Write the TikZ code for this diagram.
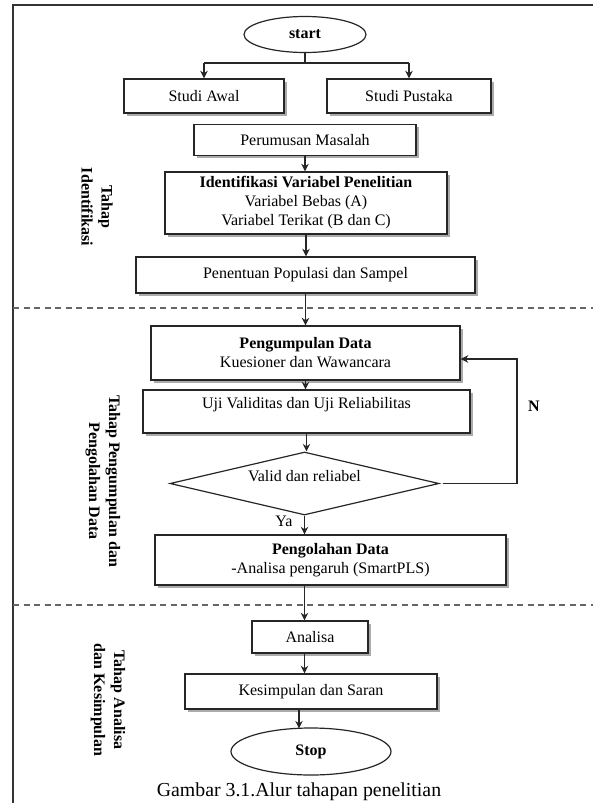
\documentclass[tikz,border=0pt]{standalone}
\usepackage{fontspec}
\setmainfont{Liberation Serif}
\usetikzlibrary{arrows.meta,shapes.geometric,shadows}

\begin{document}
\begin{tikzpicture}[x=1pt,y=-1pt,
  txt/.style={font=\fontsize{16}{19}\selectfont},
  box/.style={draw=black!85, line width=1.4pt, fill=white, inner sep=0pt, align=center, txt,
    drop shadow={shadow xshift=2.5pt, shadow yshift=-2.5pt, fill=black!55, opacity=0.6}},
  oval/.style={ellipse, draw=black!85, line width=1.2pt, fill=white, inner sep=0pt,
    font=\fontsize{16}{19}\selectfont\bfseries},
  decision/.style={diamond, aspect=4.3, draw=black!85, line width=1.2pt, fill=white, inner sep=0pt},
  link/.style={draw=black!85, line width=1.3pt},
  flow/.style={link, -{Stealth[length=7.5pt,width=7.5pt]}},
  phase/.style={rotate=-90, align=center, font=\fontsize{16}{20}\selectfont\bfseries},
  divider/.style={draw=black!60, line width=1.8pt, dash pattern=on 6pt off 4.5pt},
  frameline/.style={draw=black!80, line width=1.5pt},
]
\useasboundingbox (0,0) rectangle (593,803);

% outer frame (top and left edges)
\coordinate (ftl) at (13,5);
\coordinate (ftr) at (593,5);
\coordinate (fbl) at (13,803);
\draw[frameline] (ftr) -- (ftl) -- (fbl);

% phase dividers
\coordinate (d1l) at (13,308);
\coordinate (d1r) at (593,308);
\coordinate (d2l) at (13,605);
\coordinate (d2r) at (593,605);
\draw[divider] (d1l) -- (d1r);
\draw[divider] (d2l) -- (d2r);

% phase titles
\node[phase] (ph1) at (97,207) {Tahap\\Identifikasi};
\node[phase] (ph2) at (103,481) {Tahap Pengumpulan dan\\Pengolahan Data};
\node[phase] (ph3) at (108,700) {Tahap Analisa\\dan Kesimpulan};

% flow nodes
\node[oval, minimum width=122pt, minimum height=36pt] (start) at (305,34.5) {start};
\node[box, minimum width=160pt, minimum height=34pt] (sa) at (204,96) {Studi Awal};
\node[box, minimum width=164pt, minimum height=34pt] (sp) at (409,96) {Studi Pustaka};
\node[box, minimum width=222pt, minimum height=31pt] (pm) at (305,140) {Perumusan Masalah};
\node[box, minimum width=282pt, minimum height=62pt] (iv) at (306,203)
  {\textbf{Identifikasi Variabel Penelitian}\\Variabel Bebas (A)\\Variabel Terikat (B dan C)};
\node[box, minimum width=339pt, minimum height=36pt] (pp) at (305.5,275) {Penentuan Populasi dan Sampel};
\node[box, minimum width=309pt, minimum height=54pt] (pg) at (305.5,353)
  {\textbf{Pengumpulan Data}\\Kuesioner dan Wawancara};
\node[box, minimum width=327pt, minimum height=43pt, text height=12pt, text depth=18pt] (uj) at (306.5,411.5)
  {Uji Validitas dan Uji Reliabilitas};
\node[decision, minimum width=269pt, minimum height=63pt] (dm) at (304.5,483.5) {};
\node[txt] (dmtext) at ([yshift=7pt]dm.center) {Valid dan reliabel};
\node[box, minimum width=351pt, minimum height=50pt] (po) at (330.5,560)
  {\textbf{Pengolahan Data}\\-Analisa pengaruh (SmartPLS)};
\node[box, minimum width=116pt, minimum height=32pt] (an) at (310,637) {Analisa};
\node[box, minimum width=252pt, minimum height=35pt] (ks) at (311,691.5) {Kesimpulan dan Saran};
\node[oval, minimum width=160pt, minimum height=47pt] (stop) at (311,751.5) {Stop};

% branch labels
\node[txt] (ya) at (284,521) {Ya};
\node[txt, font=\fontsize{16}{19}\selectfont\bfseries] (no) at (534,406) {N};

% caption
\node[font=\fontsize{19.8}{23}\selectfont] (cap) at (299,792) {Gambar 3.1.Alur tahapan penelitian};

% connectors
\coordinate (split) at (305,63);
\draw[link] (start.south) -- (split);
\draw[link] (split -| sa.north) -- (split -| sp.north);
\draw[flow] (split -| sa.north) -- (sa.north);
\draw[flow] (split -| sp.north) -- (sp.north);
\draw[flow] (pm.south) -- (pm.south |- iv.north);
\draw[flow] (iv.south) -- (iv.south |- pp.north);
\draw[flow] (pp.south) -- (pp.south |- pg.north);
\draw[flow] (pg.south) -- (pg.south |- uj.north);
\draw[flow] (uj.south) -- (uj.south |- dm.north);
\draw[flow] (dm.south) -- (dm.south |- po.north);
\draw[flow] (po.south -| dm.south) -- (an.north -| dm.south);
\draw[flow] (an.south -| dm.south) -- (ks.north -| dm.south);
\coordinate (lowx) at (299,0);
\draw[flow] (ks.south -| lowx) -- ([yshift=-1pt]stop.north -| lowx);

% rejection loop back to data collection
\coordinate (nloop) at (517,359);
\draw[flow, shorten <=3pt] (dm.east) -- (dm.east -| nloop) -- (nloop) -- (nloop -| pg.east);
\end{tikzpicture}
\end{document}
